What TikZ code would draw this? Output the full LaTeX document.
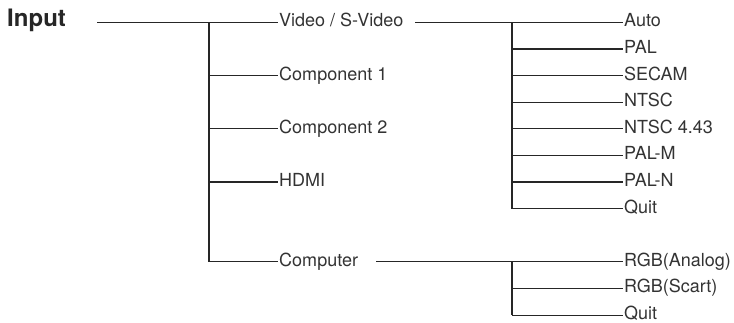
\documentclass[tikz,border=0pt]{standalone}
\usepackage{fontspec}
\setmainfont{TeX Gyre Heros}
\usepackage{tikz}
\usetikzlibrary{calc}
\tikzset{
  item/.style={anchor=west, inner sep=0pt, inner xsep=1pt, text height=9pt, text depth=0pt,
    text=black!80, font=\fontsize{18}{20}\selectfont},
  head/.style={anchor=west, inner sep=0pt, text height=8pt, text depth=0pt,
    text=black!85, font=\fontsize{24}{28}\selectfont\bfseries},
  branch/.style={line width=1.2pt, draw=black!85}
}

\begin{document}
\begin{tikzpicture}[x=1pt,y=-1pt]
  \useasboundingbox (0,0) rectangle (734,323);
  % heading
  \node[head] (input) at (7,22.5) {Input};
  \coordinate (in0) at (97,22.5);
  \coordinate (t1) at (209,22.5);
  % first level
  \node[item] (video) at (278,22.5) {Video / S-Video};
  \node[item] (comp1) at (278,75.7) {Component 1};
  \node[item] (comp2) at (278,128.9) {Component 2};
  \node[item] (hdmi) at (278,182.1) {HDMI};
  \node[item] (computer) at (278,261.9) {Computer};
  \draw[branch] (in0) -- (video.west);
  \draw[branch] (t1) -- (t1 |- computer.west);
  \foreach \n in {comp1,comp2,hdmi,computer}
    \draw[branch] (t1 |- \n.west) -- (\n.west);
  % video modes
  \coordinate (v0) at (415,22.5);
  \coordinate (t2) at (512,22.5);
  \foreach \lab [count=\i from 0] in {Auto,PAL,SECAM,NTSC,NTSC 4.43,PAL-M,PAL-N,Quit}
    \node[item] (vm\i) at (623,{22.5+26.6*\i}) {\lab};
  \draw[branch] (v0) -- (vm0.west);
  \draw[branch] (t2) -- (t2 |- vm7.west);
  \foreach \i in {1,...,7}
    \draw[branch] (t2 |- vm\i.west) -- (vm\i.west);
  % computer modes
  \coordinate (k0) at (376,261.9);
  \coordinate (t3) at (512,261.9);
  \foreach \lab [count=\i from 0] in {RGB(Analog),RGB(Scart),Quit}
    \node[item] (cm\i) at (623,{261.9+26.6*\i}) {\lab};
  \draw[branch] (k0) -- (cm0.west);
  \draw[branch] (t3) -- (t3 |- cm2.west);
  \foreach \i in {1,2}
    \draw[branch] (t3 |- cm\i.west) -- (cm\i.west);
\end{tikzpicture}
\end{document}
